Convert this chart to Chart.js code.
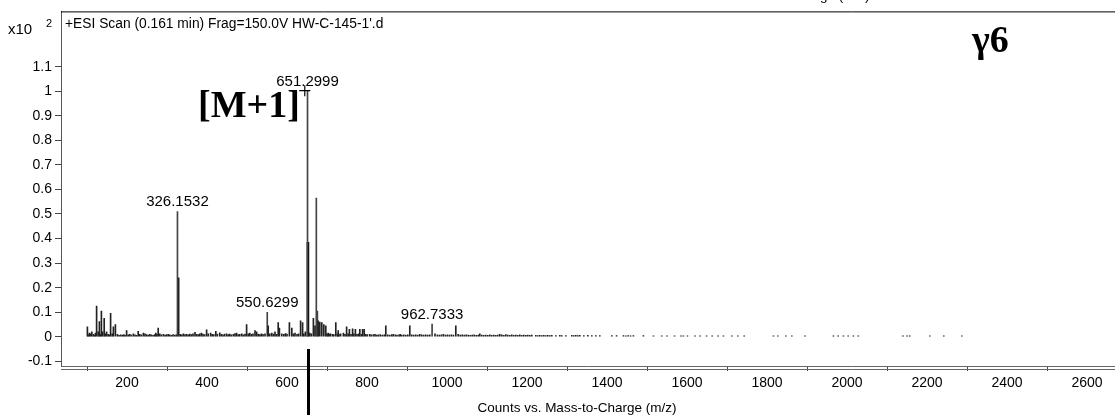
<!DOCTYPE html>
<html>
<head>
<meta charset="utf-8">
<script src="https://cdn.jsdelivr.net/npm/chart.js@4.4.1/dist/chart.umd.min.js"></script>
<style>
html,body{margin:0;padding:0;background:#fff;}
#wrap{width:1115px;height:419px;position:relative;}
</style>
</head>
<body>
<div id="wrap"><canvas id="c" width="1115" height="419"></canvas></div>
<script>
// ---- data (m/z, counts x10^2) ----
const labelledMz  = [326.1532, 550.6299, 651.2999, 962.7333];
const labelledInt = [0.51, 0.10, 1.0, 0.052];
const isotopeMz   = [652.3];
const isotopeInt  = [0.385];
const adductMz    = [673.3, 676];
const adductInt   = [0.565, 0.105];
const clusterPeaks = [[101,.04],[106,.015],[112,.02],[124,.125],[128,.02],[131,.062],[136,.105],[139,.02],[143,.075],[149,.02],[159,.095],[166,.04],[171,.05],[329.2,.24]];
const noiseA = [[103,.008],[109,.012],[116,.01],[119,.006],[121,.015],[133,.01],[146,.012],[153,.01],[156,.008],[163,.012],[176,.01],[180,.006],[184,.008],[188,.007],[192,.009],[195,.006],[199,.025],[203,.008],[207,.01],[211,.007],[216,.012],[220,.008],[224,.006],[228,.022],[232,.01],[236,.008],[241,.015],[245,.012],[249,.009],[253,.007],[257,.01],[261,.008],[265,.006],[269,.009],[272,.015],[275,.01],[278,.035],[282,.012],[286,.008],[291,.01],[295,.007],[299,.009],[303,.01],[307,.008],[311,.006],[315,.009],[319,.007],[323,.008]];
const noiseB = [[333,.01],[337,.008],[341,.012],[345,.009],[349,.01],[353,.008],[357,.011],[361,.009],[365,.012],[370,.018],[374,.01],[378,.009],[382,.012],[386,.015],[390,.011],[394,.009],[399,.028],[403,.012],[409,.015],[413,.01],[417,.009],[422,.022],[426,.011],[432,.016],[436,.01],[440,.008],[444,.011],[449,.012],[453,.009],[457,.011],[461,.008],[466,.01],[470,.013],[474,.015],[478,.009],[482,.01],[487,.012],[491,.008],[495,.011],[499,.05],[503,.012],[507,.015],[511,.01],[515,.012],[520,.025],[524,.02],[528,.011],[532,.009],[536,.012],[540,.01],[545,.012],[553,.045],[557,.012],[562,.015],[566,.011],[570,.02],[574,.01],[578,.058],[581,.035],[587,.012],[592,.01],[596,.013],[600,.011],[606,.058],[612,.035],[616,.012],[620,.015],[625,.01],[629,.012],[634,.065],[639,.058],[642,.012],[646,.02]];
const noiseC = [[657,.015],[661,.012],[666,.075],[670,.045],[678,.065],[682,.06],[687,.058],[692,.05],[697,.045],[700,.012],[703,.015],[706,.011],[709,.012],[714,.01],[717,.009],[722,.058],[726,.012],[728,.025],[730,.01],[734,.012],[741,.015],[745,.01],[749,.04],[753,.012],[756,.03],[760,.01],[764,.032],[767,.012],[771,.03],[775,.01],[779,.012],[782,.03],[786,.01],[789,.03],[793,.03],[797,.01],[801,.009],[807,.01],[811,.008],[816,.009],[820,.01],[824,.007],[828,.008],[833,.009],[838,.007],[843,.008],[847,.045],[852,.008],[857,.007],[862,.009],[866,.01],[871,.008],[875,.007],[880,.008],[883,.01],[887,.007],[892,.008],[897,.007],[902,.008],[907,.045],[912,.008],[917,.007],[922,.008],[927,.007],[932,.01],[937,.008],[942,.007],[947,.008],[952,.007],[957,.008],[970,.012],[976,.008],[981,.007],[986,.008],[991,.01],[996,.007]];
const noiseD = [[1001,.008],[1006,.007],[1011,.008],[1016,.007],[1022,.045],[1028,.01],[1033,.007],[1038,.008],[1043,.007],[1048,.008],[1053,.007],[1058,.006],[1063,.007],[1068,.008],[1073,.006],[1078,.007],[1082,.012],[1087,.007],[1092,.006],[1097,.007],[1102,.006],[1107,.008],[1112,.006],[1117,.007],[1122,.006],[1127,.007],[1132,.01],[1137,.008],[1142,.006],[1147,.009],[1152,.007],[1157,.006],[1162,.008],[1167,.006],[1172,.007],[1177,.006],[1182,.008],[1187,.006],[1192,.007],[1197,.006],[1202,.007],[1207,.006],[1212,.007],[1222,.006],[1227,.005],[1232,.006],[1237,.005],[1242,.006],[1247,.005],[1252,.006],[1257,.005],[1262,.006],[1272,.005],[1282,.006],[1287,.005],[1297,.005],[1312,.006],[1317,.005],[1322,.006],[1327,.005],[1332,.006],[1342,.005],[1352,.006],[1362,.005],[1372,.005],[1382,.005]];
const noiseE = [[1412,.005],[1424,.005],[1441,.005],[1447,.004],[1453,.005],[1459,.004],[1466,.005],[1491,.005],[1516,.004],[1537,.004],[1550,.004],[1569,.004],[1585,.004],[1591,.004],[1601,.004],[1620,.004],[1633,.004],[1649,.004],[1663,.004],[1678,.004],[1691,.004],[1712,.004],[1727,.004],[1743,.004],[1816,.004],[1827,.004],[1847,.004],[1862,.004],[1895,.004],[1966,.004],[1978,.004],[1991,.004],[2003,.004],[2016,.004],[2028,.004],[2140,.004],[2150,.004],[2157,.004],[2207,.004],[2242,.004],[2287,.004]];
const xTicks = [200,400,600,800,1000,1200,1400,1600,1800,2000,2200,2400,2600];
const yTicks = [-0.1,0,0.1,0.2,0.3,0.4,0.5,0.6,0.7,0.8,0.9,1,1.1];
const headerText = "+ESI Scan (0.161 min) Frag=150.0V HW-C-145-1'.d";
const xTitle = "Counts vs. Mass-to-Charge (m/z)";

const toXY = (xs, ys) => xs.map((x,i)=>({x:x, y:ys[i]}));
const pairs = arr => arr.map(p=>({x:p[0], y:p[1]}));

const SANS = '"Liberation Sans", Arial, sans-serif';
const SERIF = '"Liberation Serif", "Times New Roman", serif';

const textPlugin = {
  id:'texts',
  afterDraw(chart){
    const ctx = chart.ctx, xs = chart.scales.x, ys = chart.scales.y, ca = chart.chartArea;
    ctx.save();
    // second axis line (double line)
    ctx.strokeStyle = '#666'; ctx.lineWidth = 1;
    ctx.beginPath(); ctx.moveTo(ca.left, ca.bottom + 3.5); ctx.lineTo(ca.right, ca.bottom + 3.5); ctx.stroke();
    // top frame
    ctx.strokeStyle = '#000';
    ctx.beginPath(); ctx.moveTo(ca.left, ca.top + 0.5); ctx.lineTo(ca.right, ca.top + 0.5); ctx.stroke();
    // peak labels
    ctx.fillStyle = '#000';
    ctx.font = '15px ' + SANS;
    ctx.textAlign = 'center'; ctx.textBaseline = 'bottom';
    labelledMz.forEach((m,i)=>{
      ctx.fillText(m.toFixed(4), xs.getPixelForValue(m), ys.getPixelForValue(labelledInt[i]) - 2);
    });
    // marker below the axis at the main ion
    const mx = xs.getPixelForValue(labelledMz[2]);
    ctx.fillRect(Math.round(mx) - 1, ca.bottom - 17, 3, 66);
    // header text
    ctx.textAlign = 'left'; ctx.textBaseline = 'middle';
    ctx.font = '13.8px ' + SANS;
    ctx.fillText(headerText, 65, 24);
    ctx.font = '15px ' + SANS;
    ctx.fillText('x10', 8, 30);
    ctx.font = '11px ' + SANS;
    ctx.fillText('2', 46, 24);
    // axis title
    ctx.font = '13.5px ' + SANS;
    ctx.textAlign = 'center';
    ctx.fillText(xTitle, 577, 408);
    // clipped title from the panel above
    ctx.fillText(xTitle, 770, -4);
    // annotations
    ctx.font = 'bold 38px ' + SERIF;
    ctx.textAlign = 'left'; ctx.textBaseline = 'alphabetic';
    ctx.fillText('[M+1]', 198, 117);
    ctx.font = '24px ' + SERIF;
    ctx.fillText('+', 298, 98);
    ctx.font = 'bold 38px ' + SERIF;
    ctx.fillText('\u03b36', 972, 52);
    ctx.restore();
  }
};

new Chart(document.getElementById('c'), {
  type:'bar',
  data:{
    datasets:[
      {data:[...pairs(noiseA), ...pairs(noiseB), ...pairs(noiseC), ...pairs(noiseD), ...pairs(noiseE)], backgroundColor:'#222', barThickness:1, grouped:false},
      {data:pairs(clusterPeaks), backgroundColor:'#222', barThickness:1, grouped:false},
      {data:toXY(adductMz, adductInt), backgroundColor:'#444', barThickness:1, grouped:false},
      {data:toXY(labelledMz, labelledInt), backgroundColor:'#444', barThickness:1, grouped:false},
      {data:toXY(isotopeMz, isotopeInt), backgroundColor:'#000', barThickness:2, grouped:false}
    ]
  },
  options:{
    responsive:false, animation:false, devicePixelRatio:1,
    layout:{padding:{top:8, left:0, right:0, bottom:0}},
    plugins:{legend:{display:false}, tooltip:{enabled:false}},
    scales:{
      x:{
        type:'linear', min:35, max:2670, offset:false,
        grid:{display:true, drawOnChartArea:false, drawTicks:true, tickLength:5, color:'#444'},
        border:{display:true, color:'#666', width:1},
        ticks:{color:'#000', font:{family:SANS, size:14}, padding:4, maxRotation:0, autoSkip:false, callback:v=>String(v)},
        afterBuildTicks:s=>{ s.ticks = xTicks.map(v=>({value:v})); },
        afterFit:s=>{ s.height = 53; }
      },
      y:{
        type:'linear', min:-0.119, max:1.325,
        grid:{display:true, drawOnChartArea:false, drawTicks:true, tickLength:6, color:'#444'},
        border:{display:true, color:'#555', width:1},
        ticks:{color:'#000', font:{family:SANS, size:14}, padding:3, autoSkip:false, callback:v=>String(Number(v.toFixed(1)))},
        afterBuildTicks:s=>{ s.ticks = yTicks.map(v=>({value:v})); },
        afterFit:s=>{ s.width = 61; }
      }
    }
  },
  plugins:[textPlugin]
});
</script>
</body>
</html>
